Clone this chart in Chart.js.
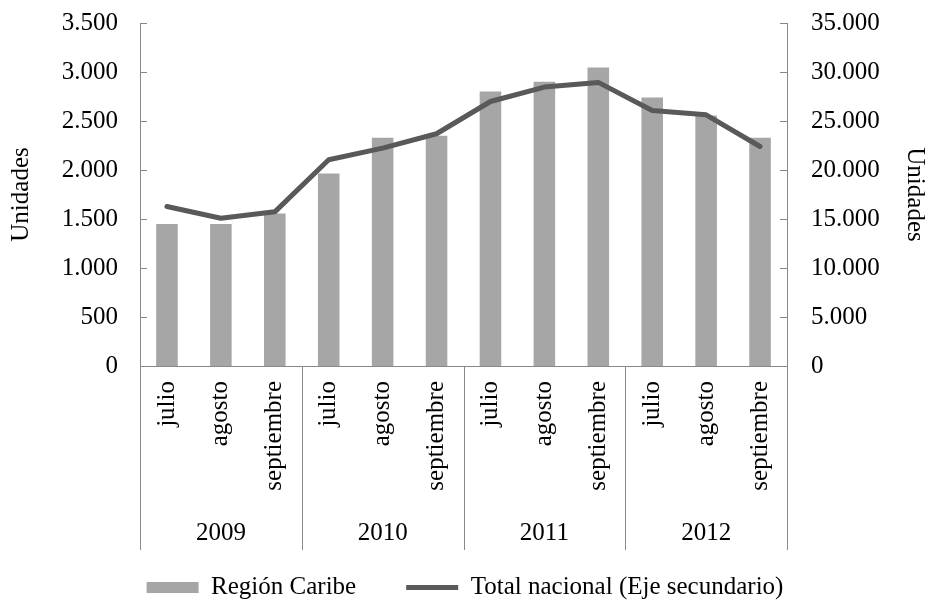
<!DOCTYPE html>
<html>
<head>
<meta charset="utf-8">
<script src="https://cdn.jsdelivr.net/npm/chart.js@4.4.0/dist/chart.umd.min.js"></script>
<style>
  html, body { margin: 0; padding: 0; background: #fff; }
</style>
</head>
<body>
<canvas id="myChart" width="930" height="600"></canvas>
<script>
// data
const monthLabels = ['julio', 'agosto', 'septiembre', 'julio', 'agosto', 'septiembre',
                     'julio', 'agosto', 'septiembre', 'julio', 'agosto', 'septiembre'];
const yearLabels = ['2009', '2010', '2011', '2012'];
const regionCaribe = [1450, 1450, 1555, 1965, 2330, 2350, 2800, 2900, 3045, 2740, 2555, 2330];
const totalNacional = [16270, 15080, 15730, 21040, 22230, 23700, 26990, 28460, 28940, 26070, 25630, 22400];

const axisGray = '#898989';
const barGray = '#a6a6a6';
const lineGray = '#595959';

const fmt = v => String(v).replace(/\B(?=(\d{3})+(?!\d))/g, '.');

Chart.defaults.font.family = '"Liberation Serif", "Times New Roman", serif';
Chart.defaults.font.size = 25;
Chart.defaults.color = '#000';

// inside tick marks on both value axes + year separators under the category axis
const axisExtras = {
  id: 'axisExtras',
  afterDraw(chart) {
    const { ctx } = chart;
    const { x, x2, y, y1 } = chart.scales;
    const perYear = monthLabels.length / yearLabels.length;
    ctx.save();
    ctx.strokeStyle = axisGray;
    ctx.lineWidth = 1;
    ctx.beginPath();
    y.ticks.forEach(t => {
      const py = Math.round(y.getPixelForValue(t.value)) + 0.5;
      ctx.moveTo(y.right, py);
      ctx.lineTo(y.right + 7, py);
    });
    y1.ticks.forEach(t => {
      const py = Math.round(y1.getPixelForValue(t.value)) + 0.5;
      ctx.moveTo(y1.left, py);
      ctx.lineTo(y1.left - 7, py);
    });
    for (let i = 0; i <= yearLabels.length; i++) {
      const px = Math.round(x.getPixelForValue(i * perYear - 0.5)) + 0.5;
      ctx.moveTo(px, x.top);
      ctx.lineTo(px, x2.top + 34);
    }
    ctx.stroke();
    ctx.restore();
  }
};

// value axes: fixed width, no extra top/bottom room for the end labels
const fixValueAxis = w => scale => {
  scale.width = w;
  scale.paddingTop = 0;
  scale.paddingBottom = 0;
};

new Chart(document.getElementById('myChart'), {
  data: {
    labels: monthLabels,
    datasets: [
      {
        type: 'line',
        label: 'Total nacional (Eje secundario)',
        data: totalNacional,
        yAxisID: 'y1',
        xAxisID: 'x',
        borderColor: lineGray,
        backgroundColor: lineGray,
        borderWidth: 5,
        borderCapStyle: 'round',
        borderJoinStyle: 'round',
        pointRadius: 0,
        pointStyle: 'line',
        tension: 0,
        order: 0
      },
      {
        type: 'bar',
        label: 'Región Caribe',
        data: regionCaribe,
        yAxisID: 'y',
        xAxisID: 'x',
        backgroundColor: barGray,
        borderWidth: 0,
        pointStyle: 'rect',
        barPercentage: 0.4,
        categoryPercentage: 1,
        order: 1
      }
    ]
  },
  options: {
    responsive: false,
    animation: false,
    layout: { padding: { top: 23, right: 0, left: 0, bottom: -10 } },
    plugins: {
      tooltip: { enabled: false },
      legend: {
        position: 'bottom',
        reverse: true,
        labels: {
          usePointStyle: true,
          pointStyleWidth: 52,
          boxHeight: 11,
          padding: 0,
          font: { size: 25 },
          generateLabels(chart) {
            const items = Chart.defaults.plugins.legend.labels.generateLabels(chart);
            items.forEach(it => { if (it.datasetIndex === 1) it.text += '\u2003    '; });
            return items;
          }
        }
      }
    },
    scales: {
      x: {
        type: 'category',
        position: 'bottom',
        offset: true,
        grid: { display: false, drawTicks: false },
        border: { display: true, color: axisGray },
        ticks: { minRotation: 90, maxRotation: 90, padding: 15, autoSkip: false },
        afterFit(scale) { scale.height = 150; }
      },
      x2: {
        type: 'category',
        position: 'bottom',
        labels: yearLabels,
        offset: true,
        grid: { display: false, drawTicks: false },
        border: { display: false },
        ticks: { padding: 2, autoSkip: false },
        afterFit(scale) { scale.height = 59; }
      },
      y: {
        position: 'left',
        min: 0,
        max: 3500,
        grid: { display: false, drawTicks: false },
        border: { display: true, color: axisGray },
        ticks: { stepSize: 500, padding: 22, callback: v => fmt(v) },
        title: { display: true, text: 'Unidades', padding: { top: 6, bottom: 0 } },
        afterFit: fixValueAxis(140)
      },
      y1: {
        position: 'right',
        min: 0,
        max: 35000,
        grid: { display: false, drawTicks: false },
        border: { display: true, color: axisGray },
        ticks: { stepSize: 5000, padding: 24, callback: v => fmt(v) },
        title: { display: true, text: 'Unidades', padding: { top: 0, bottom: 0 } },
        afterFit: fixValueAxis(143)
      }
    }
  },
  plugins: [axisExtras]
});
</script>
</body>
</html>
